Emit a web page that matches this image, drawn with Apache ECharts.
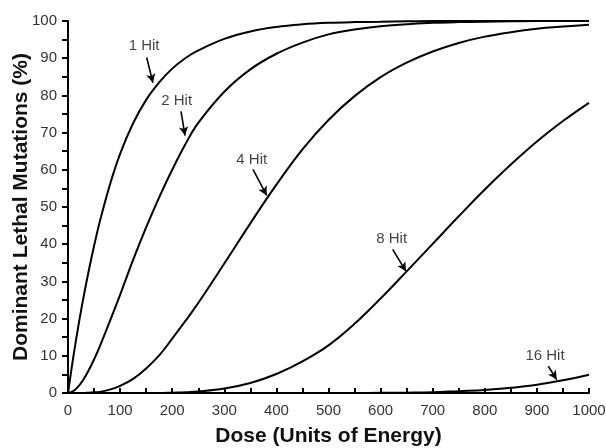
<!DOCTYPE html>
<html>
<head>
<meta charset="utf-8">
<script src="https://cdn.jsdelivr.net/npm/echarts@6/dist/echarts.min.js"></script>
<style>
  html, body { margin: 0; padding: 0; background: #fff; }
  #chart { width: 606px; height: 448px; }
</style>
</head>
<body>
<div id="chart"></div>
<script>
// dose values (units of energy) shared by every curve
var dose = [0, 10, 20, 30, 40, 50, 60, 80, 100, 125, 150, 175, 200, 225, 250, 300, 350, 400, 450, 500, 550, 600, 650, 700, 750, 800, 850, 900, 950, 1000]

// dominant lethal mutations (%)
var hit1 = [0, 9.5, 18.1, 25.9, 33, 39.5, 45.5, 55.8, 64.3, 72.5, 78.8, 83.5, 87.2, 90, 92.1, 95.2, 97.2, 98.4, 99.1, 99.5, 99.7, 99.8, 99.9, 100, 100, 100, 100, 100, 100, 100]
var hit2 = [0, 0.5, 1.8, 3.7, 6.2, 9, 12.2, 19.2, 26.4, 35.8, 44.5, 52.6, 60, 66.8, 72.6, 81, 87, 91.2, 94.2, 96.4, 97.7, 98.6, 99.1, 99.5, 99.7, 99.8, 99.9, 100, 100, 100]
var hit4 = [0, 0, 0, 0, 0.1, 0.2, 0.3, 0.9, 1.9, 3.8, 6.6, 10.1, 14.6, 19.3, 24.2, 34.8, 45.6, 56, 65.5, 73.4, 79.8, 84.9, 88.8, 91.8, 94.1, 95.8, 97, 97.9, 98.5, 99]
var hit8 = [0, 0, 0, 0, 0, 0, 0, 0, 0, 0, 0, 0, 0.1, 0.2, 0.4, 1.2, 2.7, 5.1, 8.5, 12.8, 18.6, 25.4, 32.7, 40.1, 47.5, 54.7, 61.4, 67.6, 73.1, 78]
var hit16 = [0, 0, 0, 0, 0, 0, 0, 0, 0, 0, 0, 0, 0, 0, 0, 0, 0, 0, 0, 0, 0, 0.05, 0.1, 0.2, 0.5, 0.8, 1.4, 2.2, 3.4, 4.9]

var curves = [hit1, hit2, hit4, hit8, hit16]

// annotation text and arrows, in data coordinates
var hitLabels = ['1 Hit', '2 Hit', '4 Hit', '8 Hit', '16 Hit']
var labelAt = [[146, 93.2], [208.6, 78.6], [352.6, 62.7], [621.3, 41.5], [915.5, 10.1]]
var arrowFrom = [[151, 90.2], [216.9, 75.7], [355, 60.1], [623.2, 38.6], [921.9, 7.2]]
var arrowTo = [[163, 83.4], [224.6, 69.2], [381.4, 53.1], [648.8, 32.7], [938, 3.6]]

var chart = echarts.init(document.getElementById('chart'))

var series = curves.map(function (vals) {
  return {
    type: 'line',
    data: dose.map(function (d, i) { return [d, vals[i]] }),
    smooth: 0.4,
    showSymbol: false,
    clip: false,
    silent: true,
    lineStyle: { color: '#000', width: 2 }
  }
})

series.push({
  type: 'scatter',
  data: labelAt,
  symbolSize: 0,
  silent: true,
  label: {
    show: true,
    position: 'inside',
    formatter: function (p) { return hitLabels[p.dataIndex] },
    fontFamily: 'Liberation Sans, Arial, sans-serif',
    fontSize: 15,
    color: '#111'
  },
  markLine: {
    silent: true,
    symbol: ['none', 'arrow'],
    symbolSize: [7, 9],
    label: { show: false },
    lineStyle: { color: '#000', width: 1.6, type: 'solid' },
    data: arrowFrom.map(function (f, i) {
      return [{ coord: f }, { coord: arrowTo[i] }]
    })
  }
})

var option = {
  animation: false,
  backgroundColor: '#fff',
  textStyle: { fontFamily: 'Liberation Sans, Arial, sans-serif' },
  grid: { left: 68, right: 17, top: 21, bottom: 55, containLabel: false, outerBoundsMode: 'none' },
  xAxis: {
    type: 'value',
    min: 0,
    max: 1000,
    interval: 100,
    name: 'Dose (Units of Energy)',
    nameLocation: 'middle',
    nameGap: 33,
    nameMoveOverlap: false,
    nameTextStyle: { fontSize: 21, fontWeight: 'bold', color: '#111' },
    axisLine: { show: true, lineStyle: { color: '#000', width: 2 } },
    axisTick: { show: true, inside: true, length: 5, lineStyle: { color: '#000', width: 2 } },
    minorTick: { show: true, splitNumber: 2, length: 5, lineStyle: { color: '#000', width: 2 } },
    axisLabel: { fontSize: 15, color: '#333', margin: 10, formatter: function (v) { return String(v) } },
    splitLine: { show: false }
  },
  yAxis: {
    type: 'value',
    min: 0,
    max: 100,
    interval: 10,
    name: 'Dominant Lethal Mutations (%)',
    nameLocation: 'middle',
    nameGap: 36,
    nameMoveOverlap: false,
    nameTextStyle: { fontSize: 21, fontWeight: 'bold', color: '#111' },
    axisLine: { show: true, lineStyle: { color: '#000', width: 2 } },
    axisTick: { show: true, inside: false, length: 6, lineStyle: { color: '#000', width: 2 } },
    minorTick: { show: true, splitNumber: 2, length: 6, lineStyle: { color: '#000', width: 2 } },
    axisLabel: { fontSize: 15, color: '#333', margin: 11 },
    splitLine: { show: false }
  },
  series: series
}

chart.setOption(option)
</script>
</body>
</html>
